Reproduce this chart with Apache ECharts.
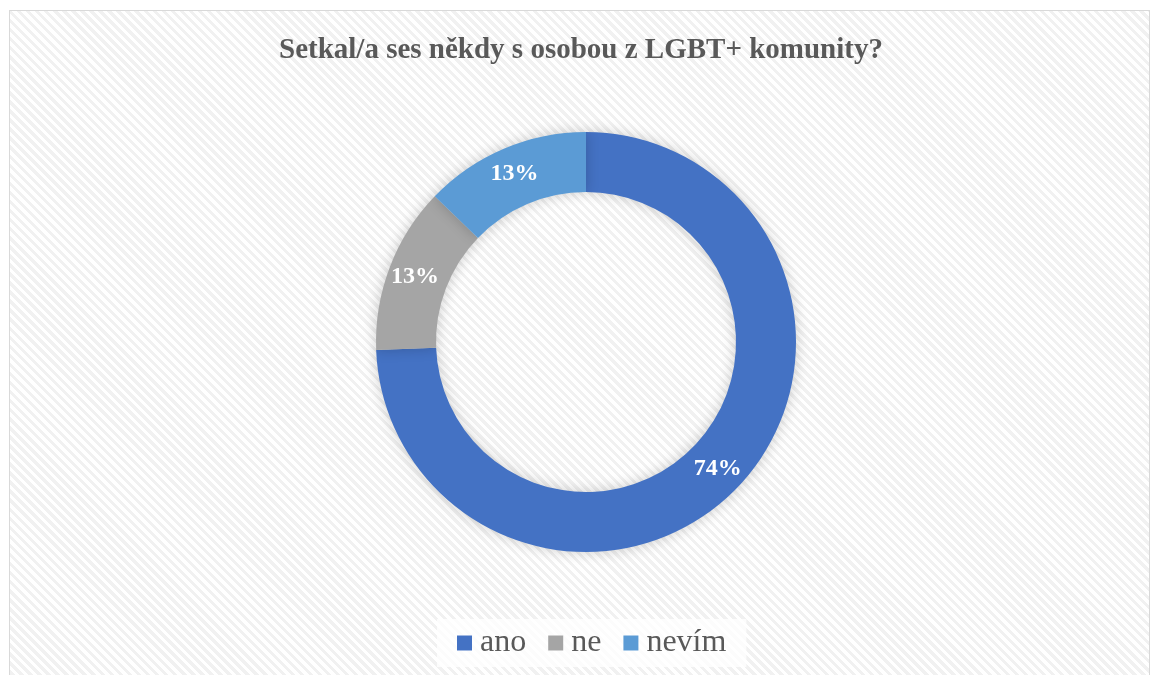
<!DOCTYPE html>
<html><head><meta charset="utf-8">
<script src="https://cdn.jsdelivr.net/npm/echarts@6/dist/echarts.min.js"></script>
<style>
html,body{margin:0;padding:0;background:#fff;}
#frame{position:absolute;left:9px;top:10px;width:1141px;height:670px;border:1px solid #d9d9d9;box-sizing:border-box;
background:repeating-linear-gradient(45deg,#ffffff 0px,#ffffff 3.2px,#f1f1f1 3.2px,#f1f1f1 6.4px);}
#chart{position:absolute;left:0;top:0;width:1151px;height:675px;}
</style></head>
<body>
<div id="frame"></div>
<div id="chart"></div>
<script>
const titleText = 'Setkal/a ses někdy s osobou z LGBT+ komunity?';
const categories = ['ano', 'ne', 'nevím'];
const values = [74.4, 12.8, 12.8];
const colors = ['#4472C4', '#A5A5A5', '#5B9BD5'];

const chart = echarts.init(document.getElementById('chart'), null, {renderer:'canvas'});
chart.setOption({
  backgroundColor: 'transparent',
  animation: false,
  title: {
    text: titleText, left: 279, top: 36, padding: 0,
    textStyle: {fontFamily: 'Liberation Serif', fontWeight: 'bold', fontSize: 29, color: '#595959'}
  },
  legend: {
    data: categories, bottom: 8, left: 437,
    itemWidth: 15, itemHeight: 15, itemGap: 22, icon: 'rect',
    backgroundColor: 'rgba(255,255,255,0.75)', padding: [8, 20, 8, 20],
    textStyle: {fontFamily: 'Liberation Serif', fontSize: 32, color: '#595959', padding: [0, 0, 0, 3]}
  },
  series: [{
    type: 'pie',
    center: [586, 342],
    radius: [150, 210],
    startAngle: 90,
    clockwise: true,
    avoidLabelOverlap: false,
    data: categories.map((c, i) => ({name: c, value: values[i], itemStyle: {color: colors[i]}})),
    itemStyle: {shadowBlur: 14, shadowColor: 'rgba(0,0,0,0.2)'},
    label: {
      position: 'inside', formatter: p => Math.round(p.value) + '%',
      fontFamily: 'Liberation Serif', fontWeight: 'bold', fontSize: 24, color: '#ffffff'
    },
    labelLine: {show: false},
    emphasis: {disabled: true}
  }]
});
</script>
</body></html>
